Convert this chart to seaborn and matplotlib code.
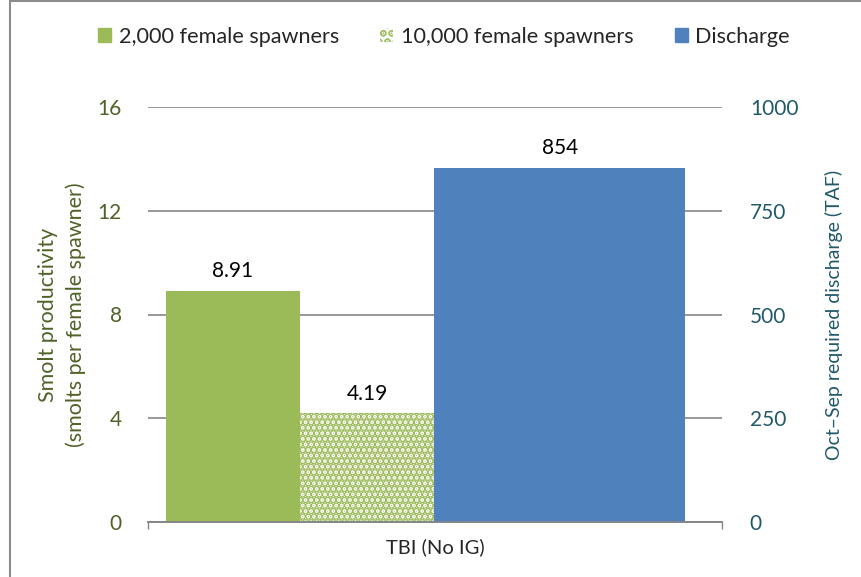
import numpy as np
import pandas as pd
import matplotlib
matplotlib.use("Agg")
import matplotlib.pyplot as plt
from matplotlib.patches import Patch
from matplotlib.lines import Line2D
import seaborn as sns

# --- data ---
categories = ["TBI (No IG)"]
spawner_series = ["2,000 female spawners", "10,000 female spawners"]
productivity = [8.91, 4.19]
discharge_series = ["Discharge"]
discharge = [854]

left_ticks = [0, 4, 8, 12, 16]
right_ticks = [0, 250, 500, 750, 1000]

# --- colours / layout ---
green = "#9BBB59"
blue = "#4F81BD"
left_col = "#4F6228"
right_col = "#215968"
grid_col = "#868686"
# bar centres in axis fraction (layout only)
prod_pos = [0.148, 0.382]
dis_pos = [0.7175]

sns.set_theme(style="white")
plt.rcParams["font.family"] = ["Lato", "DejaVu Sans"]
plt.rcParams["hatch.linewidth"] = 3.6

df_prod = pd.DataFrame({"pos": prod_pos, "value": productivity, "series": spawner_series})
df_dis = pd.DataFrame({"pos": dis_pos, "value": discharge, "series": discharge_series})

fig = plt.figure(figsize=(8.62, 5.77), dpi=100)
ax = fig.add_axes([148 / 862, 1 - 522 / 577, (722 - 148) / 862, (522 - 107) / 577])
ax2 = ax.twinx()

sns.barplot(data=df_prod, x="pos", y="value", hue="series", hue_order=spawner_series,
            palette=[green, "white"], native_scale=True, dodge=False, width=1.0,
            saturation=1, legend=False, ax=ax)
sns.barplot(data=df_dis, x="pos", y="value", hue="series", palette=[blue],
            native_scale=True, dodge=False, width=0.4373, saturation=1,
            legend=False, ax=ax2)

dotted = ax.containers[1]
for p in dotted:
    p.set_hatch("...")
    p.set_edgecolor(green)
    p.set_linewidth(0)
for p in ax.containers[0]:
    p.set_linewidth(0)
for p in ax2.containers[0]:
    p.set_linewidth(0)

for c in ax.containers:
    ax.bar_label(c, fmt="%.2f", padding=7, fontsize=15, color="black")
ax2.bar_label(ax2.containers[0], fmt="%d", padding=7, fontsize=15, color="black")

ax.set_xlim(0, 1)
ax.set_ylim(0, 16)
ax2.set_ylim(0, 1000)
ax.set_yticks(left_ticks)
ax2.set_yticks(right_ticks)
ax.set_xticks([0.5])
ax.set_xticklabels(categories, fontsize=14.5)
ax.set_xticks([0, 1], minor=True)
ax.tick_params(axis="x", which="major", length=0, pad=12)
ax.tick_params(axis="x", which="minor", length=5, color=grid_col, direction="out", bottom=True)
ax.tick_params(axis="y", length=0, labelsize=15, labelcolor=left_col, pad=19)
ax2.tick_params(axis="y", length=0, labelsize=15, labelcolor=right_col, pad=20)
ax.set_xlabel("")
ax2.set_xlabel("")

ax.set_ylabel("Smolt productivity\n(smolts per female spawner)", fontsize=15.5,
              color=left_col, labelpad=8, linespacing=1.45)
ax2.set_ylabel("Oct\u2013Sep required discharge (TAF)", fontsize=14,
               color=right_col, labelpad=19)

ax.yaxis.grid(True, color=grid_col, linewidth=1.2)
ax.set_axisbelow(True)
for a in (ax, ax2):
    for s in ("left", "right", "top"):
        a.spines[s].set_visible(False)
    a.spines["bottom"].set_color(grid_col)
    a.spines["bottom"].set_linewidth(1.2)

handles = [
    Patch(facecolor=green, edgecolor=green),
    Patch(facecolor="white", edgecolor=green, hatch="..", linewidth=0),
    Patch(facecolor=blue, edgecolor=blue),
]
labels = spawner_series + discharge_series
fig.legend(handles, labels, loc="center", bbox_to_anchor=(0.515, 1 - 37 / 577), ncol=3,
           frameon=False, fontsize=15.6, handlelength=0.6, handleheight=0.6,
           handletextpad=0.35, columnspacing=1.9)

# figure border (left and top)
fig.add_artist(Line2D([10 / 862, 10 / 862], [0, 1], color="#8C8C8C", linewidth=1.5))
fig.add_artist(Line2D([10 / 862, 1], [1 - 1 / 577, 1 - 1 / 577], color="#8C8C8C", linewidth=1.5))

fig.savefig("out.png", dpi=100)
